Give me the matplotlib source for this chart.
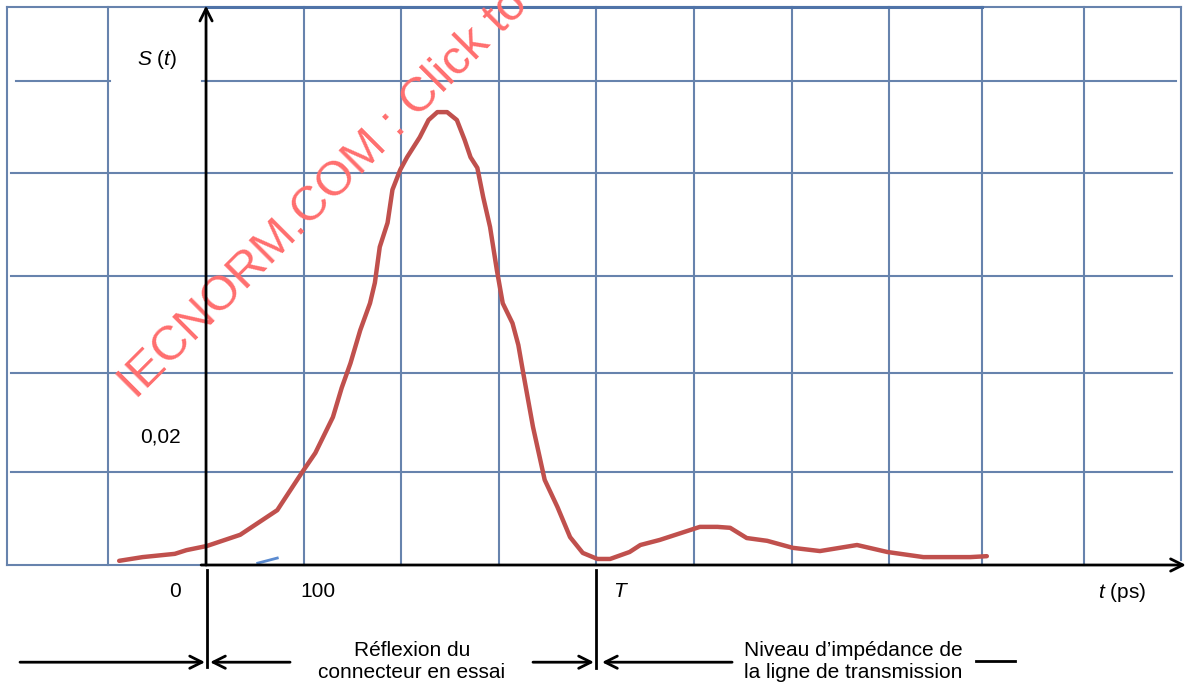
import matplotlib
matplotlib.use("Agg")
import matplotlib.pyplot as plt

plt.rcParams['font.family'] = ['Liberation Sans', 'DejaVu Sans']
plt.rcParams['mathtext.fontset'] = 'custom'
plt.rcParams['mathtext.it'] = 'Liberation Sans:italic'
plt.rcParams['mathtext.rm'] = 'Liberation Sans'

# reflection curve S(t), t in ps
t_ps = [-89, -65, -32, -20, 1, 35, 73, 98, 112, 130, 139, 148, 158, 168, 173,
        178, 186, 191, 199, 206, 219, 228, 237, 247, 257, 265, 271, 278, 284,
        291, 298, 304, 314, 320, 325, 335, 347, 360, 373, 386, 401, 414, 434,
        445, 465, 506, 524, 537, 554, 575, 601, 629, 667, 698, 735, 783, 800]
s_t = [0.0009, 0.0017, 0.0024, 0.0032, 0.0041, 0.0065, 0.0118, 0.0198, 0.0241,
       0.0318, 0.0381, 0.0434, 0.0505, 0.0563, 0.0607, 0.0684, 0.0736, 0.0807,
       0.0850, 0.0877, 0.0920, 0.0957, 0.0974, 0.0974, 0.0957, 0.0914, 0.0877,
       0.0854, 0.0791, 0.0727, 0.0634, 0.0563, 0.0520, 0.0473, 0.0413, 0.0297,
       0.0183, 0.0125, 0.0060, 0.0026, 0.0013, 0.0013, 0.0028, 0.0043, 0.0054,
       0.0082, 0.0082, 0.0080, 0.0058, 0.0052, 0.0037, 0.0030, 0.0043, 0.0028,
       0.0017, 0.0017, 0.0019]

x_grid = [-100, 100, 200, 300, 400, 500, 600, 700, 795, 900]
y_grid = [0.0200, 0.0413, 0.0622, 0.0843, 0.1041]

grid_col = '#6783ad'
curve_col = '#c0504d'

fig = plt.figure(figsize=(11.87, 6.84), dpi=100)
ax = fig.add_axes([0, 0, 1, 1])
ax.set_xlim(-211.1, 1005.1)
ax.set_ylim(-0.02559, 0.12151)
ax.axis('off')

# grid and frame
for xv in x_grid:
    ax.plot([xv, xv], [0, 0.12], color=grid_col, lw=1.5, zorder=1)
for yv in y_grid[:-1]:
    ax.plot([-200, 990], [yv, yv], color=grid_col, lw=1.5, zorder=1)
# top gridline is interrupted by the S(t) label
ax.plot([-195, -98], [y_grid[-1], y_grid[-1]], color=grid_col, lw=1.5, zorder=1)
ax.plot([-4, 994], [y_grid[-1], y_grid[-1]], color=grid_col, lw=1.5, zorder=1)
ax.plot([-204, -204], [0, 0.12], color=grid_col, lw=1.5, zorder=1)
ax.plot([999, 999], [0.001, 0.12], color=grid_col, lw=1.5, zorder=1)
ax.plot([-204, 999], [0.12, 0.12], color=grid_col, lw=1.5, zorder=1)
ax.plot([0, 795], [0.12, 0.12], color='#4f73a8', lw=2.2, zorder=1)
ax.plot([-204, 0], [0, 0], color=grid_col, lw=1.5, zorder=1)

# axes with arrows
ax.annotate('', xy=(0, 0.1203), xytext=(0, 0), zorder=4,
            arrowprops=dict(arrowstyle='->', lw=2, color='black', mutation_scale=22,
                            shrinkA=0, shrinkB=0))
ax.annotate('', xy=(1004, 0), xytext=(-5, 0), zorder=4,
            arrowprops=dict(arrowstyle='->', lw=2, color='black', mutation_scale=22,
                            shrinkA=0, shrinkB=0))

# watermark
ax.text(-71.7, 0.0355, 'IECNORM.COM : Click to', rotation=45, rotation_mode='anchor',
        ha='left', va='baseline', fontsize=35, color='#ff6e6e', zorder=2)

# curve
ax.plot(t_ps, s_t, color=curve_col, lw=3.2, solid_capstyle='round',
        solid_joinstyle='round', zorder=3)
ax.plot([53, 73], [0.0004, 0.0015], color='#5b8bd0', lw=2, zorder=3)

# labels
ax.text(-50.2, 0.1088, '$S$ ($t$)', fontsize=15, ha='center', va='center')
ax.text(-47.1, 0.0275, '0,02', fontsize=15, ha='center', va='center')
ax.text(-31.8, -0.0056, '0', fontsize=15, ha='center', va='center')
ax.text(114.8, -0.0056, '100', fontsize=15, ha='center', va='center')
ax.text(424, -0.0056, 'T', fontsize=15, ha='center', va='center', style='italic')
ax.text(938.5, -0.0060, '$t$ (ps)', fontsize=15, ha='center', va='center')

# region markers below the axis
ax.plot([1, 1], [-0.0011, -0.0219], color='black', lw=2)
ax.plot([400, 400], [-0.0011, -0.0222], color='black', lw=2)
ya = -0.0209
arr = dict(arrowstyle='->', lw=2, color='black', mutation_scale=22, shrinkA=0, shrinkB=0)
ax.annotate('', xy=(-1, ya), xytext=(-190.6, ya), arrowprops=arr)
ax.annotate('', xy=(4.1, ya), xytext=(86.1, ya), arrowprops=arr)
ax.annotate('', xy=(397.5, ya), xytext=(335, ya), arrowprops=arr)
ax.annotate('', xy=(405.7, ya), xytext=(539, ya), arrowprops=arr)
ax.plot([789, 829], [ya + 0.0002, ya + 0.0002], color='black', lw=2)

ax.text(211, -0.0208, 'Réflexion du\nconnecteur en essai', fontsize=15,
        ha='center', va='center', linespacing=1.2)
ax.text(663, -0.0208, 'Niveau d\u2019impédance de\nla ligne de transmission', fontsize=15,
        ha='center', va='center', linespacing=1.2)

fig.savefig('out.png', dpi=100)
